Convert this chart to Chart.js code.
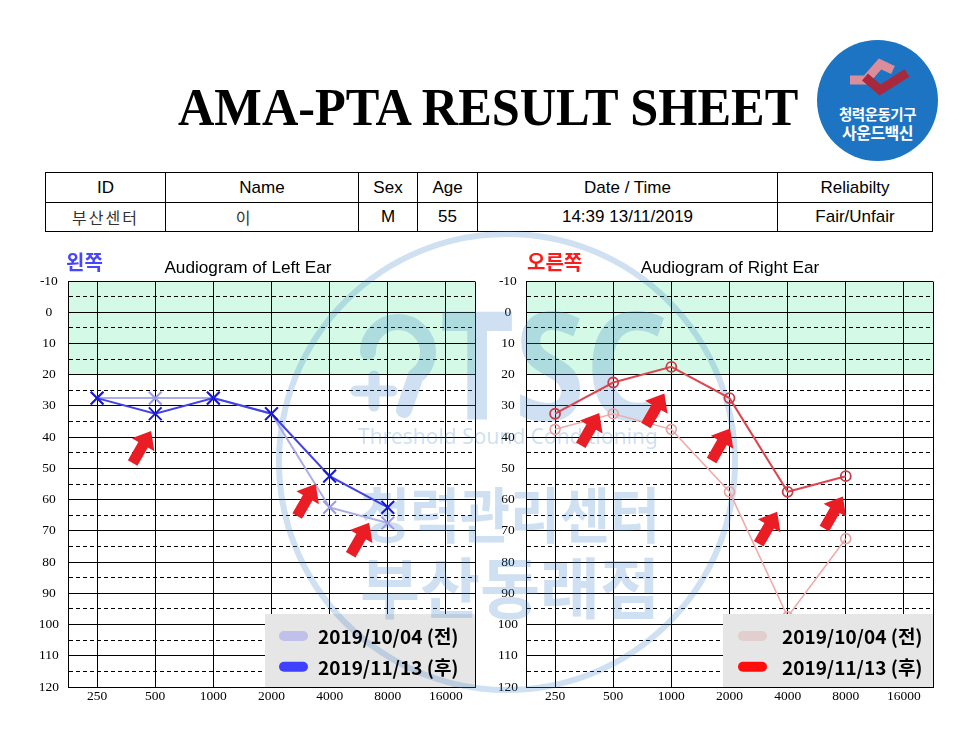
<!DOCTYPE html>
<html><head><meta charset="utf-8">
<script src="https://cdn.jsdelivr.net/npm/chart.js@4.4.1/dist/chart.umd.min.js"></script>
<style>
html,body{margin:0;padding:0;background:#fff;}
#page{position:relative;width:975px;height:730px;overflow:hidden;background:#fff;font-family:"Liberation Sans",Arial,sans-serif;}
.abs{position:absolute;}
#title{left:178px;top:81px;font-family:"Liberation Serif",serif;font-weight:bold;font-size:53px;line-height:53px;white-space:nowrap;transform-origin:0 0;transform:scaleX(0.95);color:#000;}
#info{position:absolute;left:45px;top:172px;border-collapse:collapse;table-layout:fixed;width:888px;}
#info td{border:1px solid #000;padding:0;text-align:center;vertical-align:middle;font-family:"Liberation Sans",Arial,sans-serif;font-size:17px;color:#000;white-space:nowrap;overflow:hidden;}
#info .kr{font-family:"Noto Sans CJK KR",sans-serif;font-size:16px;letter-spacing:2px;color:#333;}
.ctitle{top:258px;width:240px;text-align:center;font-family:"Liberation Sans",Arial,sans-serif;font-size:17.2px;line-height:18px;color:#000;}
.side{top:251px;font-family:"Noto Sans CJK KR",sans-serif;font-weight:bold;font-size:20px;line-height:22px;}
canvas{position:absolute;}
#logo{left:817px;top:40px;width:121px;height:121px;border-radius:50%;background:#1d74c3;}
.logotxt{left:817px;width:121px;text-align:center;color:#fff;font-family:"Noto Sans CJK KR",sans-serif;font-weight:bold;white-space:nowrap;}
</style>
</head><body>
<div id="page">
  <div id="title" class="abs">AMA-PTA RESULT SHEET</div>
  <div id="logo" class="abs"></div>
  <svg class="abs" style="left:817px;top:40px" width="121" height="121" viewBox="817 40 121 121">
    <polyline points="850,80 866,80 880,64 893,70" fill="none" stroke="#dc8d9a" stroke-width="9" stroke-linejoin="miter"/>
    <polyline points="865,77 880,90 907,73" fill="none" stroke="#a8283c" stroke-width="9" stroke-linejoin="miter"/>
  </svg>
  <div class="abs logotxt" style="top:105px;font-size:14.5px;line-height:18px;letter-spacing:-0.5px">청력운동기구</div>
  <div class="abs logotxt" style="top:122px;font-size:16px;line-height:20px;letter-spacing:-0.5px">사운드백신</div>

  <table id="info">
    <colgroup><col style="width:120px"><col style="width:193px"><col style="width:59px"><col style="width:60px"><col style="width:300px"><col style="width:155px"></colgroup>
    <tr style="height:30px"><td>ID</td><td>Name</td><td>Sex</td><td>Age</td><td>Date / Time</td><td>Reliabilty</td></tr>
    <tr style="height:29px"><td class="kr">부산센터</td><td class="kr" style="padding-right:36px">이</td><td>M</td><td>55</td><td>14:39 13/11/2019</td><td>Fair/Unfair</td></tr>
  </table>

  <canvas id="leftChart" width="460" height="490" style="left:20px;top:230px"></canvas>
  <canvas id="rightChart" width="460" height="490" style="left:480px;top:230px"></canvas>

  <div class="abs ctitle" style="left:128px">Audiogram of Left Ear</div>
  <div class="abs ctitle" style="left:610px">Audiogram of Right Ear</div>
  <div class="abs side" style="left:66px;color:#4646ff">왼쪽</div>
  <div class="abs side" style="left:527px;color:#ff1a1a">오른쪽</div>
</div>
<script>
// ---- data ----
const FREQUENCIES = ['250','500','1000','2000','4000','8000','16000'];
const LEGEND_LABELS = ['2019/10/04 (전)', '2019/11/13 (후)'];
const LEFT_BEFORE  = [27.5, 27.5, 27.5, 32.5, 62.5, 67.5];
const LEFT_AFTER   = [27.5, 32.5, 27.5, 32.5, 52.5, 62.5];
const RIGHT_BEFORE = [37.5, 32.5, 37.5, 57.5, 97.5, 72.5];
const RIGHT_AFTER  = [32.5, 22.5, 17.5, 27.5, 57.5, 52.5];
const DB_MIN = -10, DB_MAX = 120, DB_STEP = 5, DB_LABEL_STEP = 10;
const NORMAL_RANGE = [-10, 20];
// arrow annotation tips: x = category index, y = dB
const LEFT_ARROWS  = [{x:0.93, y:38}, {x:3.76, y:55}, {x:4.68, y:67.4}];
const RIGHT_ARROWS = [{x:0.76, y:32.3}, {x:1.88, y:26}, {x:3.01, y:37.2}, {x:3.82, y:63.9}, {x:4.95, y:59}];

function drawWatermark(ctx, ox, oy) {
  ctx.save();
  ctx.translate(-ox, -oy);
  const col = 'rgba(60,130,200,0.25)';
  ctx.strokeStyle = col; ctx.fillStyle = col;
  ctx.lineWidth = 6;
  ctx.beginPath(); ctx.arc(507, 462, 228, 0, Math.PI * 2); ctx.stroke();
  // ear symbol
  ctx.lineWidth = 16; ctx.lineCap = 'round';
  ctx.beginPath(); ctx.arc(398, 352, 30, Math.PI, Math.PI * 2.3); ctx.lineTo(404, 410); ctx.stroke();
  ctx.lineWidth = 11;
  ctx.beginPath(); ctx.moveTo(356, 391); ctx.lineTo(392, 391); ctx.moveTo(374, 376); ctx.lineTo(374, 406); ctx.stroke();
  ctx.textAlign = 'left'; ctx.textBaseline = 'alphabetic';
  ctx.font = 'bold 150px "Noto Sans", sans-serif';
  ctx.fillText('TSC', 440, 420, 228);
  ctx.font = '22px "Noto Sans", sans-serif';
  ctx.fillText('Threshold Sound Conditioning', 358, 444, 300);
  ctx.textAlign = 'center'; ctx.textBaseline = 'middle';
  ctx.font = 'bold 60px "Noto Sans CJK KR", sans-serif';
  ctx.fillText('청력관리센터', 510, 515, 300);
  ctx.font = 'bold 66px "Noto Sans CJK KR", sans-serif';
  ctx.fillText('부산동래점', 510, 588, 300);
  ctx.restore();
}

function drawArrow(ctx, x, y) {
  ctx.save();
  ctx.translate(x, y); ctx.rotate(Math.PI / 6);
  ctx.beginPath();
  ctx.moveTo(0, 0); ctx.lineTo(13, 16); ctx.lineTo(5.5, 16); ctx.lineTo(5.5, 37);
  ctx.lineTo(-5.5, 37); ctx.lineTo(-5.5, 16); ctx.lineTo(-13, 16); ctx.closePath();
  ctx.fillStyle = '#ea1c24'; ctx.fill();
  ctx.restore();
}

const align = v => Math.round(v - 0.5) + 0.5;

const audioPlugin = {
  id: 'audio',
  beforeDraw(chart, args, o) {
    const {ctx, chartArea: a, scales: {y}} = chart;
    const t = y.getPixelForValue(NORMAL_RANGE[0]), b = y.getPixelForValue(NORMAL_RANGE[1]);
    ctx.save(); ctx.fillStyle = '#d4f9e6'; ctx.fillRect(a.left, t, a.right - a.left, b - t); ctx.restore();
  },
  beforeDatasetsDraw(chart, args, o) {
    const {ctx, chartArea: a} = chart;
    ctx.save(); ctx.strokeStyle = '#000'; ctx.lineWidth = 1;
    ctx.beginPath(); ctx.moveTo(align(a.right), align(a.top)); ctx.lineTo(align(a.right), align(a.bottom)); ctx.stroke();
    ctx.restore();
    drawWatermark(ctx, o.ox, o.oy);
  },
  afterDatasetsDraw(chart, args, o) {
    const {ctx, chartArea: a, scales: {x, y}} = chart;
    const w = 210, h = 73, lx = a.right - w, ly = a.bottom - h;
    ctx.save();
    ctx.fillStyle = '#e6e6e6'; ctx.fillRect(lx, ly, w, h);
    ctx.beginPath(); ctx.rect(lx, ly, w, h); ctx.clip();
    drawWatermark(ctx, o.ox, o.oy);
    ctx.restore();
    ctx.save();
    chart.data.datasets.forEach((ds, i) => {
      const cy = ly + 22 + i * 30.7;
      ctx.strokeStyle = ds.legendColor; ctx.lineWidth = 10; ctx.lineCap = 'round';
      ctx.beginPath(); ctx.moveTo(lx + o.swatch + 5, cy); ctx.lineTo(lx + o.swatch + 24, cy); ctx.stroke();
      ctx.fillStyle = '#000'; ctx.font = 'bold 19px "Noto Sans CJK KR", sans-serif';
      ctx.textAlign = 'left'; ctx.textBaseline = 'middle';
      ctx.fillText(ds.label, lx + o.text, cy + 1);
    });
    ctx.restore();
    o.arrows.forEach(p => drawArrow(ctx, x.getPixelForValue(p.x), y.getPixelForValue(p.y)));
  }
};

function makeChart(id, datasets, opt) {
  return new Chart(document.getElementById(id), {
    type: 'line',
    data: { labels: FREQUENCIES, datasets },
    options: {
      responsive: false, animation: false, devicePixelRatio: 1, events: [],
      layout: { autoPadding: false, padding: { top: 51, right: opt.padRight, bottom: 13, left: 0 } },
      plugins: { legend: { display: false }, tooltip: { enabled: false }, audio: opt.audio },
      scales: {
        x: {
          type: 'category', offset: true,
          grid: { color: '#000', lineWidth: 1, drawTicks: false, offset: false },
          border: { display: true, color: '#000', width: 1 },
          ticks: { color: '#000', font: { family: '"Liberation Serif", serif', size: 13.5 }, padding: 1, maxRotation: 0, autoSkip: false },
          afterFit: s => { s.height = 20; }
        },
        y: {
          type: 'linear', reverse: true, min: DB_MIN, max: DB_MAX,
          grid: { color: '#000', lineWidth: 1, drawTicks: false },
          border: { display: true, color: '#000', width: 1,
            dash: ctx => (ctx.tick && ctx.tick.value % DB_LABEL_STEP !== 0) ? [4, 3] : [] },
          ticks: { stepSize: DB_STEP, autoSkip: false, color: '#000', crossAlign: 'center', padding: opt.tickPad,
            font: { family: '"Liberation Serif", serif', size: 13.5 },
            callback: v => (v % DB_LABEL_STEP === 0 ? String(v) : '') },
          afterFit: s => { s.width = opt.yWidth; }
        }
      }
    },
    plugins: [audioPlugin]
  });
}

makeChart('leftChart', [
  { label: LEGEND_LABELS[0], data: LEFT_BEFORE, order: 2, legendColor: 'rgb(192,192,235)',
    borderColor: 'rgb(172,172,232)', borderWidth: 2, pointStyle: 'crossRot', pointRadius: 9,
    pointBorderColor: 'rgb(155,155,232)', pointBorderWidth: 2, pointBackgroundColor: 'transparent', tension: 0 },
  { label: LEGEND_LABELS[1], data: LEFT_AFTER, order: 1, legendColor: 'rgb(64,64,255)',
    borderColor: 'rgb(66,66,232)', borderWidth: 2, pointStyle: 'crossRot', pointRadius: 9,
    pointBorderColor: 'rgb(24,24,215)', pointBorderWidth: 2, pointBackgroundColor: 'transparent', tension: 0 }
], { padRight: 5, yWidth: 48, tickPad: 9,
     audio: { ox: 20, oy: 230, swatch: 14, text: 53, arrows: LEFT_ARROWS } });

makeChart('rightChart', [
  { label: LEGEND_LABELS[0], data: RIGHT_BEFORE, order: 2, legendColor: 'rgb(226,206,206)',
    borderColor: 'rgb(240,172,172)', borderWidth: 1.6, pointStyle: 'circle', pointRadius: 5,
    pointBorderColor: 'rgb(236,160,160)', pointBorderWidth: 1.6, pointBackgroundColor: 'transparent', tension: 0 },
  { label: LEGEND_LABELS[1], data: RIGHT_AFTER, order: 1, legendColor: 'rgb(255,12,12)',
    borderColor: 'rgb(222,70,80)', borderWidth: 2, pointStyle: 'circle', pointRadius: 5,
    pointBorderColor: 'rgb(200,62,70)', pointBorderWidth: 1.8, pointBackgroundColor: 'transparent', tension: 0 }
], { padRight: 7, yWidth: 46, tickPad: 8,
     audio: { ox: 480, oy: 230, swatch: 15, text: 59, arrows: RIGHT_ARROWS } });
</script>
</body></html>
